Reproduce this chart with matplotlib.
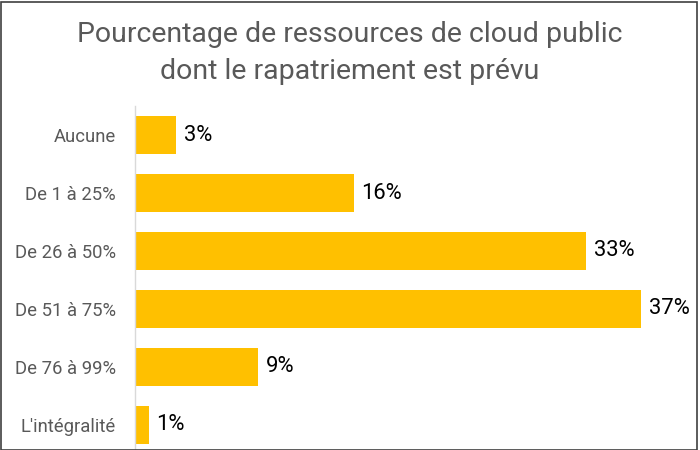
import matplotlib
matplotlib.use("Agg")
import matplotlib.pyplot as plt
from matplotlib.patches import Rectangle

categories = ["Aucune", "De 1 à 25%", "De 26 à 50%", "De 51 à 75%", "De 76 à 99%", "L'intégralité"]
values = [3, 16, 33, 37, 9, 1]
value_labels = ["3%", "16%", "33%", "37%", "9%", "1%"]
title = "Pourcentage de ressources de cloud public\ndont le rapatriement est prévu"

plt.rcParams['font.family'] = ['Roboto', 'DejaVu Sans']

fig = plt.figure(figsize=(7, 4.5), dpi=100)
W, H = 700, 450
x0, x1 = 135, 135 + 40 * 13.68
ytop, ybot = 106, 454
ax = fig.add_axes([x0 / W, 1 - ybot / H, (x1 - x0) / W, (ybot - ytop) / H])

ypos = list(range(len(categories)))
ax.barh(ypos, values, height=0.655, color="#FFC000", zorder=2)
ax.set_ylim(len(categories) - 0.5, -0.5)
ax.set_xlim(0, 40)
ax.set_yticks(ypos)
ax.set_yticklabels(categories, fontsize=13.3, color="#595959")
ax.tick_params(axis='y', length=0, pad=14)
ax.set_xticks([])
for s in ["top", "right", "bottom"]:
    ax.spines[s].set_visible(False)
ax.spines["left"].set_color("#D9D9D9")
ax.spines["left"].set_linewidth(1)

for y, v, lab in zip(ypos, values, value_labels):
    ax.text(v + 0.55, y, lab, va="center", ha="left", fontsize=15.8, color="#000000")

fig.text(0.5, 1 - 53 / H, title, ha="center", va="center", fontsize=20.5,
         color="#595959", linespacing=1.5)

fig.patches.append(Rectangle((1 / W, 0), (696 / W), 1 - 1.5 / H, transform=fig.transFigure,
                             fill=False, edgecolor="#404040", linewidth=1.2))

fig.savefig("out.png", dpi=100)
